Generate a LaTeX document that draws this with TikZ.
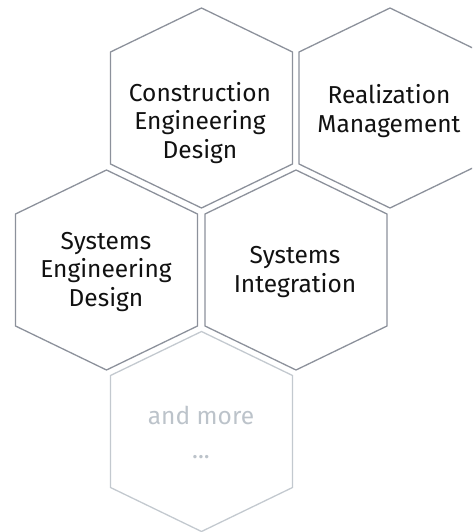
\documentclass[tikz,border=0pt]{standalone}
\usepackage{fontspec}
\setmainfont{Fira Sans}
\definecolor{hexline}{HTML}{8C919B}
\definecolor{hexfaint}{HTML}{C3C9CF}
\definecolor{faintText}{HTML}{BCC3CA}
\definecolor{mainText}{HTML}{111111}
\begin{document}
\begin{tikzpicture}[x=1pt,y=-1pt,
  hexstyle/.style={draw=hexline,line width=1.3pt,line join=miter},
  hexfaintstyle/.style={draw=hexfaint,line width=1.3pt,line join=miter},
  label/.style={align=center,text=mainText,font=\fontsize{24.5}{28.5}\selectfont,inner sep=0pt},
  faintlabel/.style={align=center,text=faintText,font=\fontsize{24.5}{28.5}\selectfont,inner sep=0pt}]
\useasboundingbox (0,0) rectangle (472,532);
\clip (0,0) rectangle (472,532);
\newcommand\hexpath[3]{\draw[#3] (#1,#2-100) -- (#1+91,#2-56) -- (#1+91,#2+56) -- (#1,#2+100) -- (#1-91,#2+56) -- (#1-91,#2-56) -- cycle;}
\hexpath{201.5}{108}{hexstyle}
\hexpath{390}{108}{hexstyle}
\hexpath{106.5}{270}{hexstyle}
\hexpath{296}{270}{hexstyle}
\hexpath{201.5}{431.5}{hexfaintstyle}
\node[label] (ced) at (200,123) {Construction\\Engineering\\Design};
\node[label] (rm) at (389,111) {Realization\\Management};
\node[label] (sed) at (106,272) {Systems\\Engineering\\Design};
\node[label] (si) at (295,272) {Systems\\Integration};
\node[faintlabel,anchor=base] (more) at (201,424) {and more};
\node[faintlabel,anchor=base] (dots) at (201,458) {...};
\end{tikzpicture}
\end{document}
